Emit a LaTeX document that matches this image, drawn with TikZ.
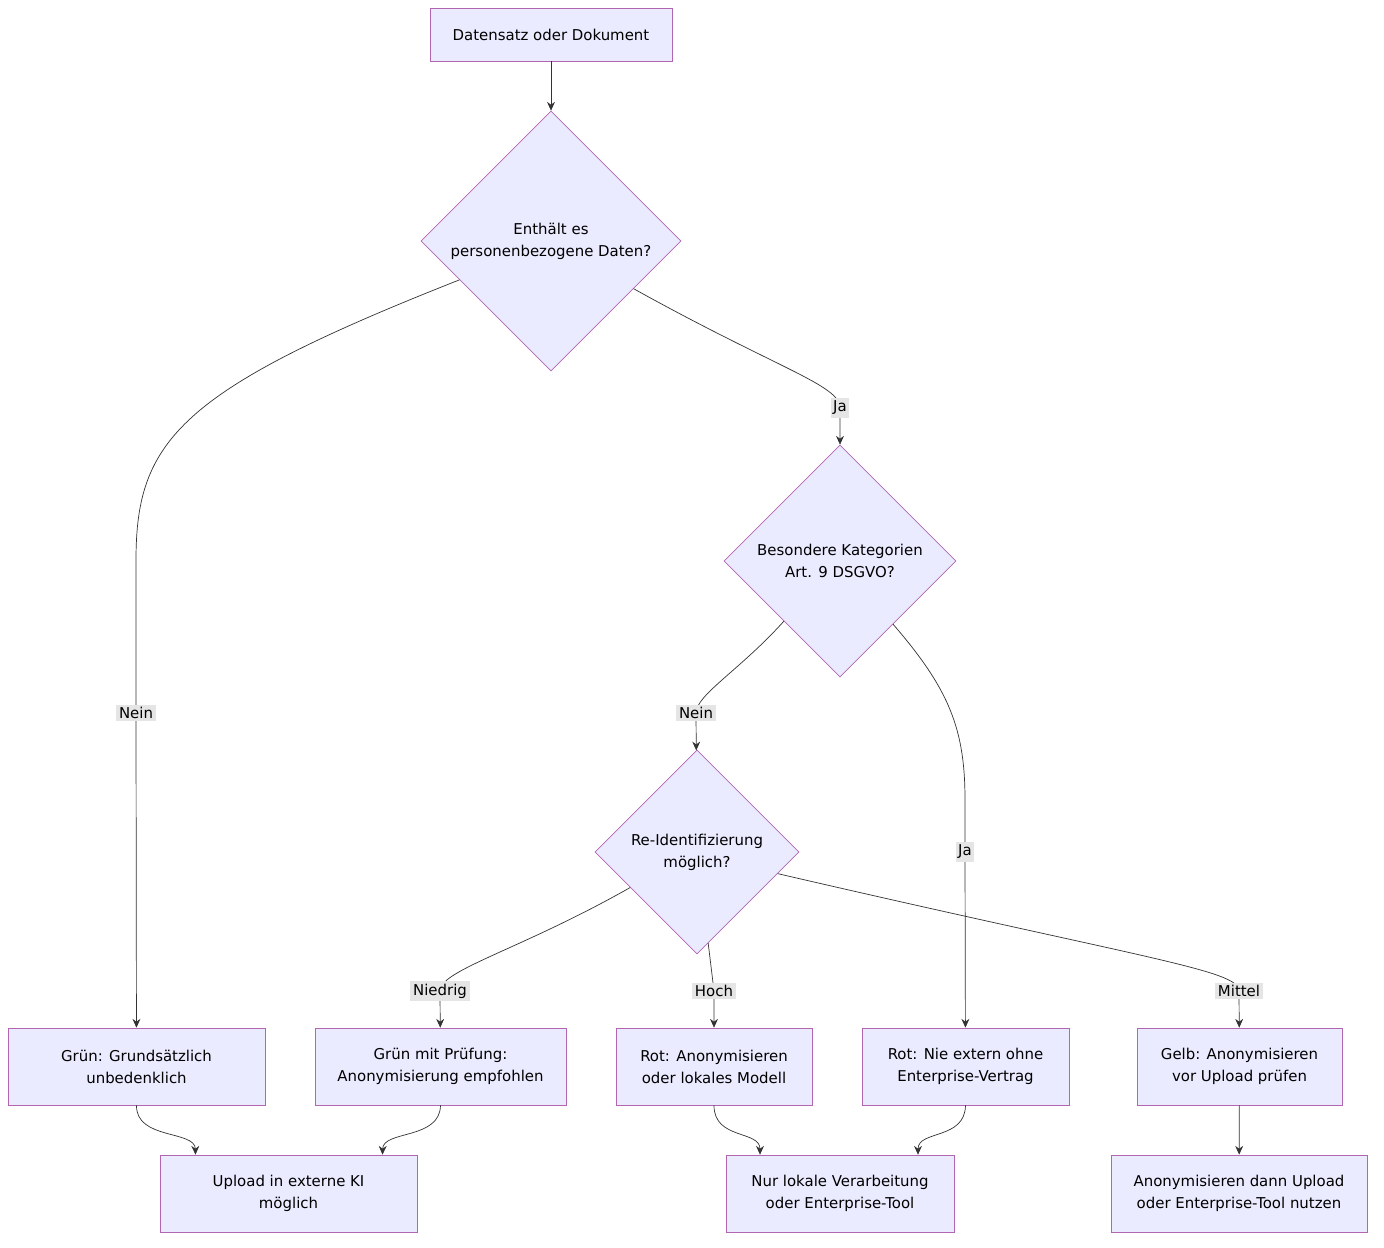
\documentclass[tikz,border=0pt]{standalone}
\usepackage{fontspec}
\setmainfont{DejaVu Sans}
\usetikzlibrary{shapes.geometric,arrows.meta,calc}
\tikzset{
  box/.style={draw=violet!60, fill=blue!8, align=center, inner sep=0pt, font=\fontsize{8.5}{12.5}\selectfont},
  dia/.style={diamond, draw=violet!60, fill=blue!8, align=center, inner sep=0pt, aspect=1, font=\fontsize{8.5}{12.5}\selectfont},
  arr/.style={draw=black!80, -{Stealth[length=5pt,width=4.5pt]}},
  lbl/.style={fill=black!10, inner sep=1.5pt, font=\fontsize{8.5}{10}\selectfont}
}
\begin{document}
\begin{tikzpicture}[x=0.02cm, y=-0.02cm]
  \useasboundingbox (0,0) rectangle (1384,1248);
  % nodes
  \node[box, minimum width=4.84cm, minimum height=1.06cm] (top) at (551,34.5) {Datensatz oder Dokument};
  \node[dia, minimum width=5.2cm, minimum height=5.2cm] (d1) at (551,241) {Enthält es\\personenbezogene Daten?};
  \node[dia, minimum width=4.64cm, minimum height=4.64cm] (d2) at (840,561) {Besondere Kategorien\\Art. 9 DSGVO?};
  \node[dia, minimum width=4.08cm, minimum height=4.08cm] (d3) at (697,852) {Re-Identifizierung\\möglich?};
  \node[box, minimum width=5.14cm, minimum height=1.54cm] (g1) at (136.5,1066.5) {Grün: Grundsätzlich\\unbedenklich};
  \node[box, minimum width=5.02cm, minimum height=1.54cm] (g2) at (440.5,1066.5) {Grün mit Prüfung:\\Anonymisierung empfohlen};
  \node[box, minimum width=3.92cm, minimum height=1.54cm] (r1) at (714,1066.5) {Rot: Anonymisieren\\oder lokales Modell};
  \node[box, minimum width=4.14cm, minimum height=1.54cm] (r2) at (965.5,1066.5) {Rot: Nie extern ohne\\Enterprise-Vertrag};
  \node[box, minimum width=4.1cm, minimum height=1.54cm] (ye) at (1239.5,1066.5) {Gelb: Anonymisieren\\vor Upload prüfen};
  \node[box, minimum width=5.14cm, minimum height=1.54cm] (u1) at (288.5,1193.5) {Upload in externe KI\\möglich};
  \node[box, minimum width=4.56cm, minimum height=1.54cm] (u2) at (840,1193.5) {Nur lokale Verarbeitung\\oder Enterprise-Tool};
  \node[box, minimum width=5.12cm, minimum height=1.54cm] (u3) at (1239,1193.5) {Anonymisieren dann Upload\\oder Enterprise-Tool nutzen};

  % edges
  \draw[arr] (top) -- (d1);
  \draw[arr] (d1.203) .. controls (180,390) and (136,440) .. (136,560) -- (136,713) node[lbl]{Nein} -- (g1);
  \draw[arr] (d1.-30) .. controls (780,370) and (840,385) .. (840,408) node[lbl]{Ja} -- (d2);
  \draw[arr] (d2.227) .. controls (740,670) and (696,695) .. (696,713) node[lbl]{Nein} -- (d3);
  \draw[arr] (d2.-50) .. controls (950,690) and (965,730) .. (965,800) -- (965,852) node[lbl]{Ja} -- (r2);
  \draw[arr] (d3.208) .. controls (520,950) and (440,970) .. (440,991) node[lbl]{Niedrig} -- (g2);
  \draw[arr] (d3.-83) -- (714,991) node[lbl]{Hoch} -- (r1);
  \draw[arr] (d3.-15) .. controls (1150,960) and (1239,970) .. (1239,991) node[lbl]{Mittel} -- (ye);
  \draw[arr] (g1.south) .. controls (136,1140) and (195,1130) .. ($(u1.north)+(-93,0)$);
  \draw[arr] (g2.south) .. controls (440,1140) and (383,1130) .. ($(u1.north)+(94,0)$);
  \draw[arr] (r1.south) .. controls (714,1140) and (760,1130) .. ($(u2.north)+(-80,0)$);
  \draw[arr] (r2.south) .. controls (965,1140) and (918,1130) .. ($(u2.north)+(78,0)$);
  \draw[arr] (ye) -- (u3);
\end{tikzpicture}
\end{document}
